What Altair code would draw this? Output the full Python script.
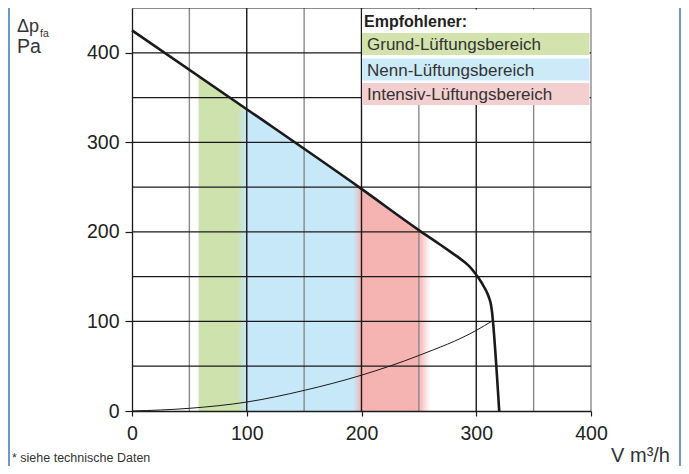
import altair as alt
import pandas as pd

# ---- data ----
fan_v = [0, 100, 200, 250, 270, 280, 285, 290, 294, 298, 302, 305.5, 308.5, 311, 312.8, 313.8, 314.5, 320]
fan_p = [425, 337, 248, 202, 184.5, 175.5, 171, 166, 161.5, 155.5, 148.5, 141.5, 134.5, 127, 119, 110, 101, 0]

sys_v = [0, 50, 100, 150, 200, 250, 300, 314.5]
sys_p = [0, 3, 10, 23, 40, 62, 90, 101]

band_v = [58, 100, 200, 250, 260]
band_p = [374, 337, 248, 202, 193]

x_ticks = [0, 100, 200, 300, 400]
y_ticks = [0, 100, 200, 300, 400]
x_grid = [50, 100, 150, 200, 250, 300, 350, 400]
y_grid = [50, 100, 150, 200, 250, 300, 350, 400, 450]

legend_title = "Empfohlener:"
legend_labels = ["Grund-Lüftungsbereich", "Nenn-Lüftungsbereich", "Intensiv-Lüftungsbereich"]
legend_colors = ["#d2e3ad", "#cceaf7", "#f4cfcf"]

GREEN, BLUE, RED = "#cde2ad", "#c6e8f8", "#f5b3b1"
FONT = "Liberation Sans, Arial, sans-serif"
DARK = "#1a1a1a"

xs = alt.Scale(domain=[0, 400], nice=False, zero=False)
ys = alt.Scale(domain=[0, 450], nice=False, zero=False)

fan = pd.DataFrame({"v": fan_v, "p": fan_p})
sysc = pd.DataFrame({"v": sys_v, "p": sys_p})
band = pd.DataFrame({"v": band_v, "p": band_p})
xg = pd.DataFrame({"v": x_grid})
yg = pd.DataFrame({"v": y_grid})
one = pd.DataFrame({"a": [0]})

x_axis = alt.Axis(values=x_ticks, grid=False, title=None, domainColor=DARK, domainWidth=1.3,
                  tickColor=DARK, tickSize=5, tickWidth=1.2, labelFont=FONT, labelFontSize=19.5,
                  labelColor="#222", labelPadding=8, labelFlush=False, zindex=1)
y_axis = alt.Axis(values=y_ticks, grid=False, title=None, domainColor=DARK, domainWidth=1.3,
                  tickColor=DARK, tickSize=7, tickWidth=1.2, labelFont=FONT, labelFontSize=19.5,
                  labelColor="#222", labelPadding=6, labelFlush=False, zindex=1)

grad = alt.Gradient(
    gradient="linear", x1=0, x2=1, y1=0, y2=0,
    stops=[
        alt.GradientStop(color=GREEN, offset=0),
        alt.GradientStop(color=GREEN, offset=0.168),
        alt.GradientStop(color=BLUE, offset=0.208),
        alt.GradientStop(color=BLUE, offset=0.668),
        alt.GradientStop(color=RED, offset=0.703),
        alt.GradientStop(color=RED, offset=0.95),
        alt.GradientStop(color="#ffffff", offset=1.0),
    ],
)

area = alt.Chart(band).mark_area(color=grad, opacity=1, interpolate="linear").encode(
    x=alt.X("v:Q", scale=xs, axis=x_axis),
    y=alt.Y("p:Q", scale=ys, axis=y_axis),
    y2=alt.Y2(datum=0),
)

xgrid = alt.Chart(xg).mark_rule(strokeWidth=1.4).encode(
    x=alt.X("v:Q", scale=xs),
    color=alt.condition("datum.v % 100 === 0 && datum.v < 400", alt.value(DARK), alt.value("#8a8a8a")),
)
ygrid = alt.Chart(yg).mark_rule(strokeWidth=1.2, color=DARK).encode(
    y=alt.Y("v:Q", scale=ys),
)

fan_line = alt.Chart(fan).mark_line(color=DARK, strokeWidth=2.6, interpolate="monotone").encode(
    x=alt.X("v:Q", scale=xs), y=alt.Y("p:Q", scale=ys), order="v:Q"
)
sys_line = alt.Chart(sysc).mark_line(color=DARK, strokeWidth=1.0, interpolate="monotone").encode(
    x=alt.X("v:Q", scale=xs), y=alt.Y("p:Q", scale=ys), order="v:Q"
)

layers = [area, xgrid, ygrid, sys_line, fan_line]

# legend box
layers.append(alt.Chart(one).mark_rect(color="white").encode(
    x=alt.value(230), x2=alt.value(457.5), y=alt.value(1.5), y2=alt.value(96)))
layers.append(alt.Chart(one).mark_text(text=legend_title, font=FONT, fontSize=16, fontWeight="bold",
                                       align="left", baseline="alphabetic", color="#222").encode(
    x=alt.value(232), y=alt.value(19)))
row_tops = [25, 50.5, 75]
for lab, col, top in zip(legend_labels, legend_colors, row_tops):
    layers.append(alt.Chart(one).mark_rect(color=col).encode(
        x=alt.value(230), x2=alt.value(457.5), y=alt.value(top), y2=alt.value(top + 22)))
    layers.append(alt.Chart(one).mark_text(text=lab, font=FONT, fontSize=17, align="left",
                                           baseline="middle", color="#333").encode(
        x=alt.value(235), y=alt.value(top + 12)))

# axis titles and footnote
def txt(t, x, y, size, align="left"):
    return alt.Chart(one).mark_text(text=t, font=FONT, fontSize=size, align=align,
                                    baseline="alphabetic", color="#333").encode(
        x=alt.value(x), y=alt.value(y))

layers.append(txt("Δp", -115, 24, 18))
layers.append(txt("fa", -92, 29, 10.5))
layers.append(txt("Pa", -115, 45, 19.5))
layers.append(txt("V m³/h", 538, 454, 20, align="right"))
layers.append(txt("* siehe technische Daten", -120, 454, 12.5))

# frame lines
for xv in [-123, 548]:
    layers.append(alt.Chart(one).mark_rule(color="#7094cc", strokeWidth=2).encode(
        x=alt.value(xv), y=alt.value(-10), y2=alt.value(470)))

chart = alt.layer(*layers).properties(
    width=459, height=403, autosize="none",
    padding={"left": 124, "top": 0, "right": 90, "bottom": 55},
    background="white",
).configure_view(strokeWidth=0)

chart.save("out.html", embed_options={"renderer": "svg", "actions": False})
